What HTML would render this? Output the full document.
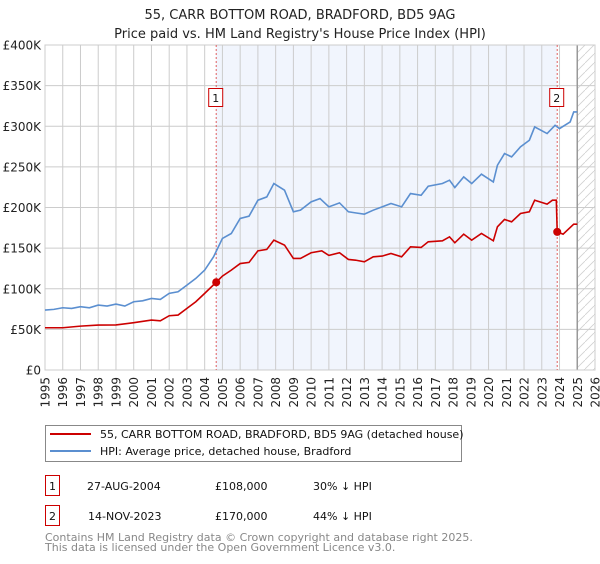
<!DOCTYPE html>
<html><head><meta charset="utf-8"><style>
body{margin:0;background:#fff;width:600px;height:560px;overflow:hidden;font-family:"DejaVu Sans","Liberation Sans",sans-serif;}
svg text{font-family:"DejaVu Sans","Liberation Sans",sans-serif;}
</style></head><body>
<svg id="chart" width="600" height="560" xmlns="http://www.w3.org/2000/svg">
<text x="300" y="19" font-size="13" text-anchor="middle" fill="#222">55, CARR BOTTOM ROAD, BRADFORD, BD5 9AG</text>
<text x="300" y="38" font-size="13" text-anchor="middle" fill="#222">Price paid vs. HM Land Registry's House Price Index (HPI)</text>
<g id="plot"></g>
<g>
<rect x="45.5" y="425.5" width="416" height="36" fill="#fff" stroke="#888"/>
<line x1="50" y1="434" x2="91" y2="434" stroke="#cc0000" stroke-width="2"/>
<text x="100" y="438" font-size="11" fill="#111">55, CARR BOTTOM ROAD, BRADFORD, BD5 9AG (detached house)</text>
<line x1="50" y1="451" x2="91" y2="451" stroke="#5b8fd0" stroke-width="2"/>
<text x="100" y="455" font-size="11" fill="#111">HPI: Average price, detached house, Bradford</text>
</g>
<g font-size="11" fill="#111">
<rect x="45.5" y="475.5" width="14" height="20" fill="none" stroke="#cc0000"/>
<text x="52.5" y="490" text-anchor="middle">1</text>
<text x="87" y="490">27-AUG-2004</text>
<text x="215" y="490">£108,000</text>
<text x="313" y="490">30% ↓ HPI</text>
</g>
<g font-size="11" fill="#111">
<rect x="45.5" y="505.5" width="14" height="20" fill="none" stroke="#cc0000"/>
<text x="52.5" y="520" text-anchor="middle">2</text>
<text x="88" y="520">14-NOV-2023</text>
<text x="215" y="520">£170,000</text>
<text x="313" y="520">44% ↓ HPI</text>
</g>
<text x="45" y="541" font-size="11" fill="#888">Contains HM Land Registry data © Crown copyright and database right 2025.</text>
<text x="45" y="551" font-size="11" fill="#888">This data is licensed under the Open Government Licence v3.0.</text>
</svg>
<script>
const yearTicks=[1995,1996,1997,1998,1999,2000,2001,2002,2003,2004,2005,2006,2007,2008,2009,2010,2011,2012,2013,2014,2015,2016,2017,2018,2019,2020,2021,2022,2023,2024,2025,2026];
const valueTicks=[0,50,100,150,200,250,300,350,400];
const valueTickLabels=["£0","£50K","£100K","£150K","£200K","£250K","£300K","£350K","£400K"];
const hpiYears=[1995,1995.5,1996,1996.5,1997,1997.5,1998,1998.5,1999,1999.5,2000,2000.5,2001,2001.5,2002,2002.5,2003,2003.5,2004,2004.5,2005,2005.5,2006,2006.5,2007,2007.5,2007.9,2008.5,2009,2009.4,2010,2010.5,2011,2011.6,2012.1,2012.5,2013,2013.5,2014,2014.5,2015.1,2015.6,2016.2,2016.6,2017.4,2017.8,2018.1,2018.6,2019.05,2019.6,2020.27,2020.5,2020.9,2021.3,2021.8,2022.3,2022.6,2023.3,2023.75,2024,2024.6,2024.8,2025];
const hpiValues=[73.8,74.6,76.6,75.8,77.9,76.6,79.9,78.7,81.1,78.7,84,85.2,88.1,86.9,94.3,96.3,104.5,112.7,122.9,139.3,161.9,168,186.5,189.3,209,213,229.5,221.3,194.7,196.7,207,211,200.8,205.7,194.7,193.4,191.8,196.7,200.8,204.9,200.8,217.2,215.1,226.2,229.5,233.6,224.6,237.7,229.5,241,231.5,252,266.4,262.3,274.6,282.8,299.2,291,301.2,297.1,305.3,317.6,317.6];
const priceYears=[1995,1996,1997,1998,1999,2000,2001,2001.5,2002,2002.5,2003,2003.5,2004,2004.65,2005,2005.5,2006,2006.5,2007,2007.5,2007.9,2008.5,2009,2009.4,2010,2010.6,2011,2011.6,2012.1,2012.5,2013,2013.5,2014,2014.5,2015.1,2015.6,2016.2,2016.6,2017.4,2017.8,2018.1,2018.6,2019.05,2019.6,2020.27,2020.5,2020.9,2021.3,2021.8,2022.3,2022.6,2023.3,2023.6,2023.82,2023.87,2024.2,2024.8,2025];
const priceValues=[52,52,54,55.3,55.5,58.2,61.5,60.5,66.8,67.6,75.8,84,94.3,108,115.6,122.9,131,132.4,146.7,148.4,159.8,153.7,137.3,137.3,144.3,146.7,141,144.3,136.1,135.2,133.2,139.3,140.2,143.4,139.3,151.6,150.8,157.8,159,163.9,156.6,167.2,159.8,168,159,176.2,185.3,182.4,192.6,194.7,209,204.1,209,209,170,167.2,179.5,179.5];
const saleYears=[2004.65,2023.87];
const saleValues=[108,170];
const saleLabels=["1","2"];

const L=45,R=595,T=45,B=370;
const X=y=>L+(y-1995)*(R-L)/31;
const Y=v=>B-v*(B-T)/400;
const NS="http://www.w3.org/2000/svg";
const plot=document.getElementById('plot');
function mk(tag,attrs,parent){const e=document.createElementNS(NS,tag);for(const k in attrs)e.setAttribute(k,attrs[k]);(parent||plot).appendChild(e);return e;}

const defs=mk('defs',{});
const pat=mk('pattern',{id:'hatch',width:9,height:9,patternUnits:'userSpaceOnUse'},defs);
mk('path',{d:'M0,9 L9,0',stroke:'#d0d0d0','stroke-width':0.8},pat);

const bg=mk('rect',{x:L,y:T,width:R-L,height:B-T,fill:'#fff'});


const band=mk('rect',{x:X(saleYears[0]),y:T,width:X(saleYears[1])-X(saleYears[0]),height:B-T,fill:'#f1f5fd'});


const hatch=mk('rect',{x:X(2025),y:T,width:R-X(2025),height:B-T,fill:'url(#hatch)'});



yearTicks.forEach(yr=>{
  const x=X(yr);
  const g=mk('line',{x1:x,y1:T,x2:x,y2:B,stroke:'#ccc','stroke-width':1});
  
  
  const t=mk('text',{x:0,y:0,'font-size':12,fill:'#222','text-anchor':'end',transform:`translate(${x+4.5},${B+7}) rotate(-90)`});
  t.textContent=yr;
  
  
});
valueTicks.forEach((v,i)=>{
  const y=Y(v);
  const g=mk('line',{x1:L,y1:y,x2:R,y2:y,stroke:'#ccc','stroke-width':1});
  
  
  const t=mk('text',{x:L-4,y:y+4.5,'font-size':12,fill:'#222','text-anchor':'end'});
  t.textContent=valueTickLabels[i];
  
  
});
const vl=mk('line',{x1:X(2025),y1:T,x2:X(2025),y2:B,stroke:'#999','stroke-width':1.5});


const border=mk('rect',{x:L,y:T,width:R-L,height:B-T,fill:'none',stroke:'#ccc'});



saleYears.forEach((yr,i)=>{
  const x=X(yr);
  const d=mk('line',{x1:x,y1:T,x2:x,y2:B,stroke:'#e06060','stroke-width':1,'stroke-dasharray':'2,2'});
  
  
});

const hpi=mk('polyline',{points:hpiYears.map((y,i)=>X(y)+','+Y(hpiValues[i])).join(' '),fill:'none',stroke:'#5b8fd0','stroke-width':1.6});


const pr=mk('polyline',{points:priceYears.map((y,i)=>X(y)+','+Y(priceValues[i])).join(' '),fill:'none',stroke:'#cc0000','stroke-width':1.6});



saleYears.forEach((yr,i)=>{
  const x=X(yr);
  const c=mk('circle',{cx:x,cy:Y(saleValues[i]),r:4,fill:'#cc0000'});
  
  
  const b=mk('rect',{x:x-7.5,y:88.5,width:14,height:18,fill:'#fff',stroke:'#cc0000'});
  
  
  const t=mk('text',{x:x-0.5,y:102,'font-size':11,'text-anchor':'middle',fill:'#111'});
  t.textContent=saleLabels[i];
  
  
});
</script>
</body></html>
